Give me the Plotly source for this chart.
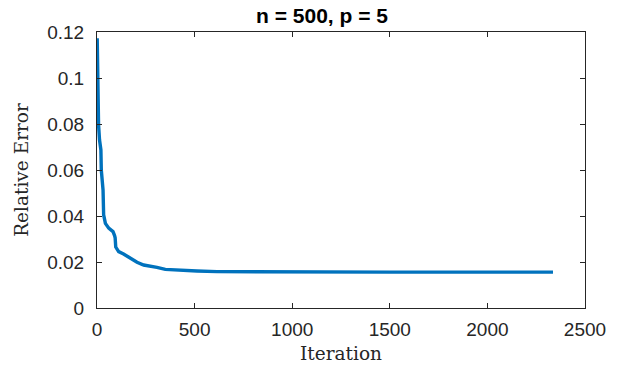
import plotly.graph_objects as go

iterations = [1, 3, 8, 13, 20, 22, 31, 34, 43, 60, 82, 90, 93, 96, 111, 136,
              171, 205, 239, 273, 307, 350, 427, 512, 615, 785, 1000, 1500, 2000, 2336]
rel_error = [0.1173, 0.100, 0.0796, 0.073, 0.0687, 0.060, 0.0513, 0.0405, 0.0368,
             0.0347, 0.0332, 0.0315, 0.0305, 0.0265, 0.0245, 0.0235, 0.0216, 0.0199,
             0.0187, 0.0183, 0.0177, 0.0168, 0.0164, 0.0161, 0.0158, 0.0157, 0.0157,
             0.0156, 0.0156, 0.0156]

x_ticks = [0, 500, 1000, 1500, 2000, 2500]
y_ticks = [0, 0.02, 0.04, 0.06, 0.08, 0.1, 0.12]
y_ticktext = ["0", "0.02", "0.04", "0.06", "0.08", "0.1", "0.12"]

axis_color = "#262626"
tick_font = dict(family="Liberation Sans, Arial, sans-serif", size=19, color=axis_color)
label_font = dict(family="DejaVu Serif, serif", size=18.5, color=axis_color)

W, H = 617, 368

fig = go.Figure()
fig.add_trace(go.Scatter(x=iterations, y=rel_error, mode="lines",
                         line=dict(color="#0072BD", width=3.4), showlegend=False))

fig.update_layout(
    width=W, height=H,
    margin=dict(l=97, r=32, t=32, b=60, autoexpand=False),
    paper_bgcolor="white", plot_bgcolor="white",
    title=dict(text="<b>n = 500, p = 5</b>", x=322 / W, xanchor="center", xref="container",
               y=1 - 15.5 / H, yanchor="middle", yref="container",
               font=dict(family="Liberation Sans, Arial, sans-serif", size=21, color="black")),
)
fig.update_xaxes(range=[0, 2500], tickvals=x_ticks, ticks="inside", ticklen=5,
                 tickcolor=axis_color, showline=True, linecolor=axis_color, linewidth=1,
                 mirror="ticks", showgrid=False, zeroline=False, tickfont=tick_font,
                 ticklabelstandoff=4,
                 title=dict(text="Iteration", font=label_font, standoff=8))
fig.update_yaxes(range=[0, 0.12], tickvals=y_ticks, ticktext=y_ticktext, ticks="inside",
                 ticklen=5, tickcolor=axis_color, showline=True, linecolor=axis_color,
                 linewidth=1, mirror="ticks", showgrid=False, zeroline=False,
                 tickfont=tick_font, ticklabelstandoff=8,
                 title=dict(text="Relative Error", font=label_font, standoff=13))

fig.write_html("out.html", config={"displayModeBar": False},
               post_script="document.body.style.margin='0';document.body.style.overflow='hidden';")
